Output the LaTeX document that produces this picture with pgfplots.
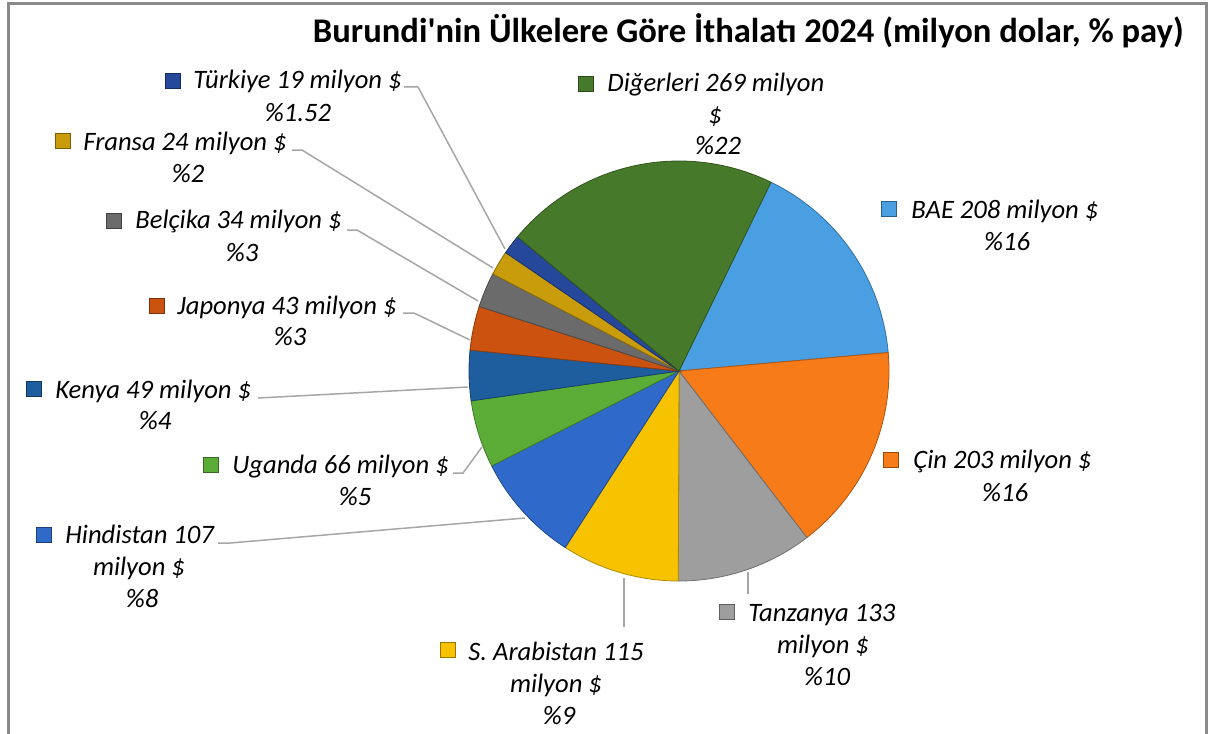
\documentclass[border=0pt]{standalone}
\usepackage{pgfplots}
\pgfplotsset{compat=1.18}
\usepackage{pgfplotstable}
\usepackage{fontspec}
\setmainfont{Carlito}
\newfontfamily\titlefont{Carlito}

\definecolor{cBAE}{HTML}{4A9FE2}
\definecolor{cCin}{HTML}{F77B18}
\definecolor{cTan}{HTML}{9E9E9E}
\definecolor{cSar}{HTML}{F7C300}
\definecolor{cHin}{HTML}{2F69CA}
\definecolor{cUga}{HTML}{5CAD38}
\definecolor{cKen}{HTML}{1E5D9E}
\definecolor{cJap}{HTML}{CB530F}
\definecolor{cBel}{HTML}{6B6B6B}
\definecolor{cFra}{HTML}{C99C0B}
\definecolor{cTur}{HTML}{25489B}
\definecolor{cDig}{HTML}{467A2A}
\definecolor{leader}{HTML}{A6A6A6}
\definecolor{frame}{HTML}{8A8A8A}

\pgfplotstableread[col sep=comma]{
name,value,col
BAE,208,cBAE
Cin,203,cCin
Tanzanya,133,cTan
SArabistan,115,cSar
Hindistan,107,cHin
Uganda,66,cUga
Kenya,49,cKen
Japonya,43,cJap
Belcika,34,cBel
Fransa,24,cFra
Turkiye,19,cTur
Digerleri,269,cDig
}\piedata

\newcommand{\lblfont}{\fontsize{13.3}{16}\selectfont\itshape}
\newcommand{\lw}[3]{\node[anchor=base west,inner sep=0pt,font=\lblfont] at (axis cs:#1,#2) {#3};}
\newcommand{\lc}[3]{\node[anchor=base,inner sep=0pt,font=\lblfont] at (axis cs:#1,#2) {#3};}
\newcommand{\mk}[3]{\addplot[only marks, mark=square*, mark size=3.9pt, mark options={fill=#1, draw=#1!60!black, line width=0.4pt}] coordinates {(#2,#3)};}
\newcommand{\ld}[1]{\addplot[leader, line width=0.75pt, no marks] coordinates {#1};}

\begin{document}
\begin{tikzpicture}
\path[use as bounding box] (0,0) rectangle (609.5pt,366.5pt);
\begin{axis}[at={(0,0)}, anchor=south west, width=609.5pt, height=366.5pt,
  scale only axis, xmin=0, xmax=1219, ymin=0, ymax=733, y dir=reverse,
  hide axis, clip=false]

% frame
\addplot[frame, line width=1.5pt, no marks] coordinates {(8.5,745) (8.5,4) (1206,4) (1206,745)};

% pie slices
\def\startang{64}
\pgfplotsforeachungrouped \i in {0,...,11}{%
  \pgfplotstablegetelem{\i}{value}\of\piedata \let\val\pgfplotsretval
  \pgfplotstablegetelem{\i}{col}\of\piedata \let\col\pgfplotsretval
  \pgfmathsetmacro\endang{\startang-\val/1270*360}%
  \edef\temp{\noexpand\addplot[fill=\col, draw=\col!70!black, line width=0.4pt, domain=\endang:\startang, samples=60] ({679+210*cos(x)},{371-210*sin(x)}) -- (axis cs:679,371) -- cycle;}%
  \temp
  \global\let\startang\endang
}

% leader lines
\ld{(404,87) (418,87) (505,249)}
\ld{(292,150) (302,150) (493,268)}
\ld{(347,230) (357,230) (478,301)}
\ld{(403,313) (414,313) (470,340)}
\ld{(258,398) (468,387)}
\ld{(453,473) (463,473) (482,447)}
\ld{(218,543) (230,543) (525,518)}
\ld{(624,578) (624,627)}
\ld{(748,572) (748,594)}

% markers
\mk{cTur}{173}{81}
\mk{cDig}{586}{84}
\mk{cFra}{63}{141}
\mk{cBel}{114}{221}
\mk{cJap}{157}{306}
\mk{cKen}{34}{389}
\mk{cUga}{211}{465}
\mk{cHin}{44}{535}
\mk{cSar}{448}{650}
\mk{cTan}{727}{612}
\mk{cBAE}{889}{209}
\mk{cCin}{891}{460}

% labels
\lw{193}{89}{Türkiye 19 milyon \$}
\lc{298}{121}{\%1.52}
\lw{607}{91}{Diğerleri 269 milyon}
\lc{715}{123}{\$}
\lc{718}{155}{\%22}
\lw{83}{150}{Fransa 24 milyon \$}
\lc{188}{182}{\%2}
\lw{135}{228}{Belçika 34 milyon \$}
\lc{242}{261}{\%3}
\lw{177}{314}{Japonya 43 milyon \$}
\lc{290}{345}{\%3}
\lw{55}{398}{Kenya 49 milyon \$}
\lc{155}{429}{\%4}
\lw{232}{473}{Uganda 66 milyon \$}
\lc{355}{505}{\%5}
\lw{65}{543}{Hindistan 107}
\lc{139}{575}{milyon \$}
\lc{142}{607}{\%8}
\lw{468}{660}{S. Arabistan 115}
\lc{556}{692}{milyon \$}
\lc{559}{724}{\%9}
\lw{748}{621}{Tanzanya 133}
\lc{823}{653}{milyon \$}
\lc{827}{685}{\%10}
\lw{911}{218}{BAE 208 milyon \$}
\lc{1007}{250}{\%16}
\lw{913}{468}{Çin 203 milyon \$}
\lc{1005}{501}{\%16}

% title
\node[anchor=base east, inner sep=0pt, font=\titlefont\fontsize{17.3}{20}\selectfont\bfseries] at (axis cs:1184,43) {Burundi'nin Ülkelere Göre İthalatı 2024 (milyon dolar, \% pay)};
\end{axis}
\end{tikzpicture}
\end{document}
